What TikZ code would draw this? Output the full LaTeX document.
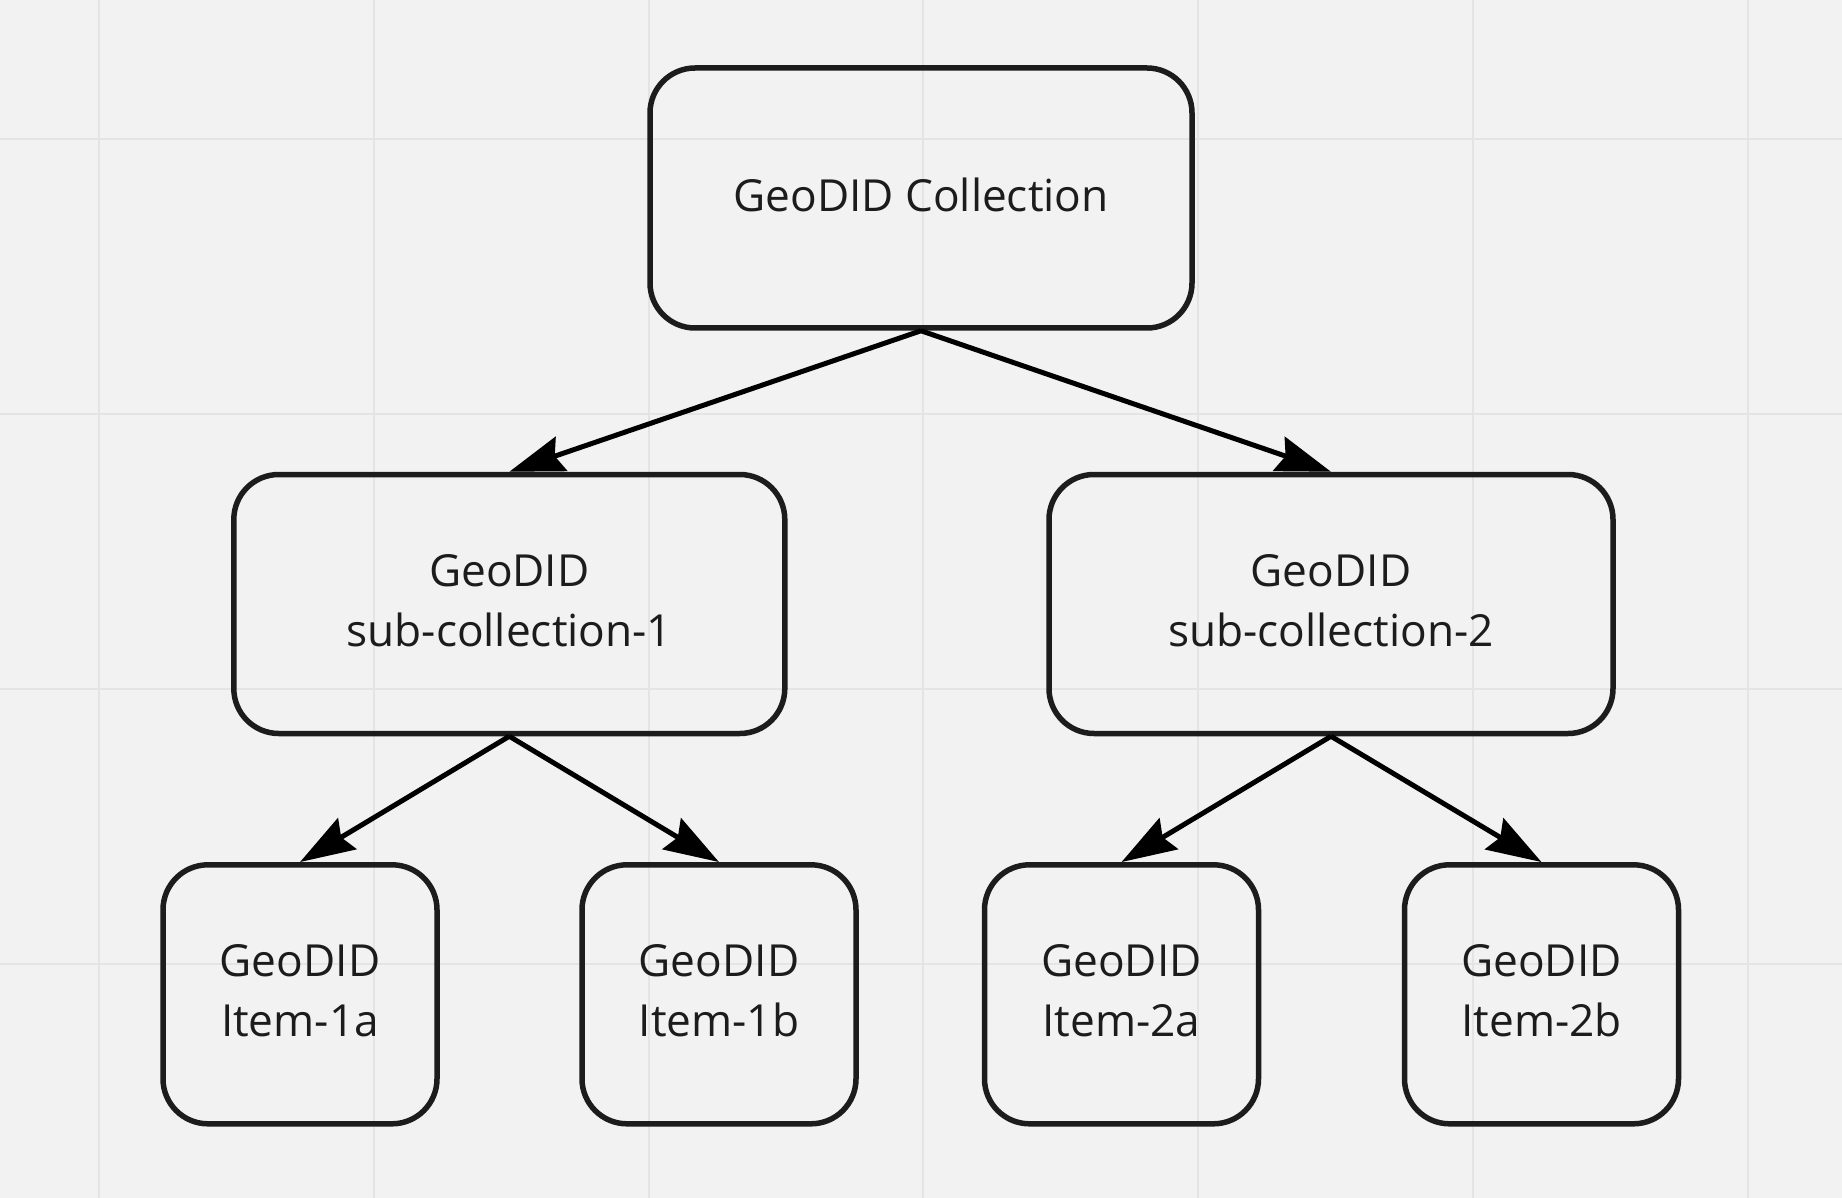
\documentclass[tikz,border=0pt]{standalone}
\usepackage{fontspec}
\setmainfont{Open Sans}
\usetikzlibrary{arrows.meta}
\definecolor{bgc}{HTML}{F2F2F2}
\definecolor{gridc}{HTML}{E4E4E4}
\definecolor{ink}{HTML}{1C1C1C}
\tikzset{
  box/.style={draw=ink, line width=5.5pt, rounded corners=45pt, align=center,
    text=ink, inner sep=0pt, text depth=7pt, font=\fontsize{44.2}{60}\selectfont},
  conn/.style={draw=black, line width=5pt, -{Stealth[length=55pt, width=36pt, inset=7pt]}}
}
\begin{document}
\begin{tikzpicture}[x=1pt,y=-1pt]
\fill[bgc] (0,0) rectangle (1842,1198);
\useasboundingbox (0,0) rectangle (1842,1198);
\foreach \gx in {98.7,373.6,648.5,923.3,1198.2,1473.1,1748}
  \draw[gridc, line width=2pt] (\gx,0) -- (\gx,1198);
\foreach \gy in {139,413.9,688.8,963.7}
  \draw[gridc, line width=2pt] (0,\gy) -- (1842,\gy);

\node[box, minimum width=542pt, minimum height=260pt] (top) at (921,198) {GeoDID Collection};
\node[box, minimum width=551pt, minimum height=259pt] (s1) at (509.3,604) {GeoDID\\sub-collection-1};
\node[box, minimum width=564pt, minimum height=259pt] (s2) at (1331,604) {GeoDID\\sub-collection-2};
\node[box, minimum width=274pt, minimum height=259pt] (i1a) at (300,994.3) {GeoDID\\Item-1a};
\node[box, minimum width=274pt, minimum height=259pt] (i1b) at (719,994.3) {GeoDID\\Item-1b};
\node[box, minimum width=274pt, minimum height=259pt] (i2a) at (1121.5,994.3) {GeoDID\\Item-2a};
\node[box, minimum width=274pt, minimum height=259pt] (i2b) at (1541.5,994.3) {GeoDID\\Item-2b};

\draw[conn] (top.south) -- (s1.north);
\draw[conn] (top.south) -- (s2.north);
\draw[conn] (s1.south) -- (i1a.north);
\draw[conn] (s1.south) -- (i1b.north);
\draw[conn] (s2.south) -- (i2a.north);
\draw[conn] (s2.south) -- (i2b.north);
\end{tikzpicture}
\end{document}
